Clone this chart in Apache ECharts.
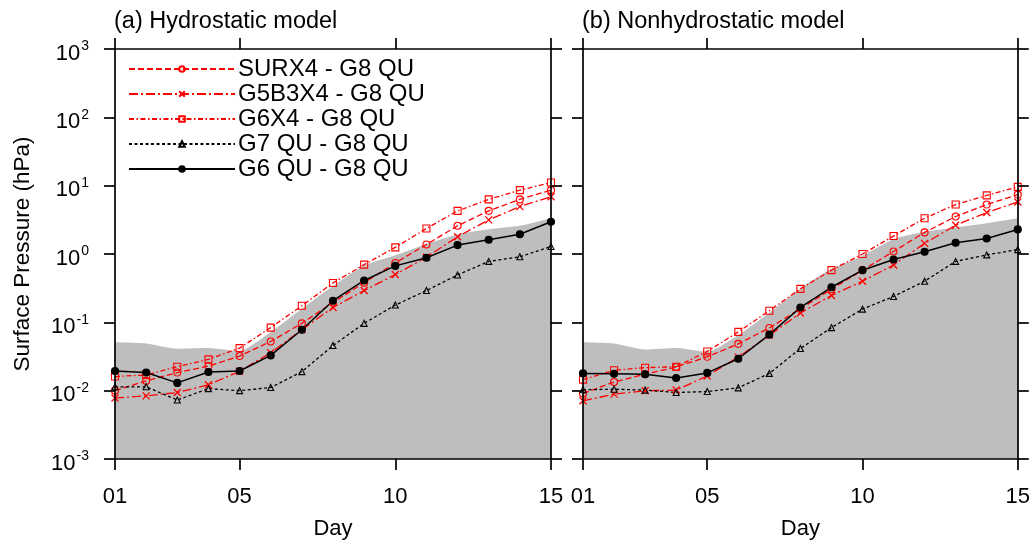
<!DOCTYPE html>
<html>
<head>
<meta charset="utf-8">
<script src="https://cdn.jsdelivr.net/npm/echarts@6/dist/echarts.min.js"></script>
<style>
html, body { margin: 0; padding: 0; background: #fff; }
#chart { width: 1033px; height: 545px; }
</style>
</head>
<body>
<div id="chart"></div>
<script>
const days = ['01', '02', '03', '04', '05', '06', '07', '08', '09', '10', '11', '12', '13', '14', '15']
const dayTickIdx = [0, 4, 9, 14]
const panelTitles = ['(a) Hydrostatic model', '(b) Nonhydrostatic model']
const seriesNames = ['SURX4 - G8 QU', 'G5B3X4 - G8 QU', 'G6X4 - G8 QU', 'G7 QU - G8 QU', 'G6 QU - G8 QU']

// (a) hydrostatic
const hydSpread = [0.051, 0.049, 0.041, 0.042, 0.038, 0.072, 0.158, 0.339, 0.676, 0.955, 1.40, 1.95, 2.31, 2.59, 3.34]
const hydSurx4 = [0.0100, 0.0139, 0.0184, 0.0229, 0.0321, 0.0524, 0.0967, 0.195, 0.381, 0.74, 1.38, 2.59, 4.28, 6.3, 8.6]
const hydG5b3x4 = [0.0078, 0.0084, 0.0094, 0.0122, 0.0192, 0.0358, 0.078, 0.165, 0.292, 0.50, 0.90, 1.79, 3.16, 4.94, 6.9]
const hydG6x4 = [0.0161, 0.0170, 0.0224, 0.0287, 0.0419, 0.0837, 0.175, 0.377, 0.70, 1.25, 2.36, 4.28, 6.3, 8.6, 11.1]
const hydG7qu = [0.0114, 0.0114, 0.0073, 0.0107, 0.0100, 0.0111, 0.0190, 0.0458, 0.0967, 0.179, 0.292, 0.493, 0.78, 0.91, 1.29]
const hydG6qu = [0.0194, 0.0184, 0.0130, 0.0188, 0.0194, 0.0328, 0.078, 0.207, 0.41, 0.67, 0.88, 1.35, 1.62, 1.95, 2.96]

// (b) nonhydrostatic
const nonSpread = [0.051, 0.049, 0.040, 0.042, 0.037, 0.065, 0.138, 0.316, 0.603, 0.946, 1.65, 2.11, 2.45, 2.82, 3.34]
const nonSurx4 = [0.0091, 0.0134, 0.0174, 0.0222, 0.0313, 0.0484, 0.0828, 0.158, 0.305, 0.58, 1.09, 2.07, 3.54, 5.29, 7.4]
const nonG5b3x4 = [0.0071, 0.0089, 0.00995, 0.0102, 0.0164, 0.031, 0.0647, 0.137, 0.247, 0.40, 0.69, 1.43, 2.64, 4.04, 5.78]
const nonG6x4 = [0.0145, 0.0199, 0.0217, 0.0224, 0.0375, 0.0724, 0.148, 0.309, 0.58, 1.0, 1.83, 3.34, 5.29, 7.2, 9.6]
const nonG7qu = [0.0103, 0.0105, 0.0102, 0.0094, 0.0097, 0.011, 0.0179, 0.0414, 0.0837, 0.156, 0.239, 0.40, 0.78, 0.97, 1.16]
const nonG6qu = [0.0179, 0.0177, 0.0174, 0.0153, 0.0182, 0.0293, 0.066, 0.165, 0.326, 0.58, 0.83, 1.08, 1.46, 1.69, 2.29]

const FONT = '"Liberation Sans", Arial, Helvetica, sans-serif'
const RED = '#ff0000'
const BLACK = '#000000'
const crossPath = 'path://M0,0L10,10M10,0L0,10'

// line look for each series (same order as seriesNames)
const looks = [
    {color: RED, type: [6, 3], symbol: 'circle', size: 7, hollow: true},
    {color: RED, type: [9, 3, 2, 3], symbol: crossPath, size: 7, hollow: false, cross: true},
    {color: RED, type: [5, 2.5, 1.5, 2.5], symbol: 'rect', size: 7, hollow: true},
    {color: BLACK, type: [3, 2.5], symbol: 'triangle', size: 6, hollow: true},
    {color: BLACK, type: 'solid', symbol: 'circle', size: 7, hollow: false},
]

const showTick = (i) => dayTickIdx.includes(i)

const makeSeries = (name, data, look, idx) => ({
    name: name,
    type: 'line',
    xAxisIndex: idx,
    yAxisIndex: idx,
    data: data,
    symbol: look.symbol,
    symbolSize: look.size,
    z: 3,
    lineStyle: {color: look.color, width: look.color === BLACK && look.type === 'solid' ? 1.5 : 1.3, type: look.type},
    itemStyle: {
        color: look.hollow ? 'rgba(0,0,0,0)' : look.color,
        borderColor: look.color,
        borderWidth: look.cross ? 1.3 : 1.1,
    },
    emphasis: {disabled: true},
})

const spreadSeries = (data, idx) => ({
    type: 'line',
    xAxisIndex: idx,
    yAxisIndex: idx,
    data: data,
    symbol: 'none',
    smooth: 0.2,
    z: 1,
    lineStyle: {width: 0},
    areaStyle: {color: '#bebebe', opacity: 1, origin: 'start'},
    emphasis: {disabled: true},
})

const xAxisFor = (idx, pos) => ({
    gridIndex: idx,
    type: 'category',
    data: days,
    boundaryGap: false,
    position: pos,
    z: 5,
    axisLine: {show: true, onZero: false, lineStyle: {color: BLACK, width: 1.7}},
    axisTick: {show: true, inside: false, length: 11, interval: showTick, lineStyle: {color: BLACK, width: 1.7}},
    axisLabel: {show: pos === 'bottom', interval: showTick, fontSize: 22, color: BLACK, fontFamily: FONT, margin: 27},
    splitLine: {show: false},
    name: pos === 'bottom' ? 'Day' : '',
    nameLocation: 'middle',
    nameGap: 59,
    nameTextStyle: {fontSize: 22, color: BLACK, fontFamily: FONT},
})

const expLabel = (v) => {
    const e = Math.round(Math.log10(v))
    return '{b|10}{e|' + e + '}'
}

const yAxisFor = (idx, pos, labels) => ({
    gridIndex: idx,
    type: 'log',
    logBase: 10,
    min: 0.001,
    max: 1000,
    position: pos,
    z: 5,
    axisLine: {show: true, lineStyle: {color: BLACK, width: 1.7}},
    axisTick: {show: true, inside: false, length: 11, lineStyle: {color: BLACK, width: 1.7}},
    minorTick: {show: false},
    splitLine: {show: false},
    axisLabel: {
        show: labels,
        margin: 26,
        formatter: expLabel,
        rich: {
            b: {fontSize: 22, color: BLACK, fontFamily: FONT, lineHeight: 31, verticalAlign: 'bottom'},
            e: {fontSize: 14, color: BLACK, fontFamily: FONT, verticalAlign: 'top', padding: [6, 0, 0, 1]},
        },
    },
    name: labels ? 'Surface Pressure (hPa)' : '',
    nameLocation: 'middle',
    nameGap: 81,
    nameTextStyle: {fontSize: 22.5, color: BLACK, fontFamily: FONT},
})

const panels = [
    [hydSpread, hydSurx4, hydG5b3x4, hydG6x4, hydG7qu, hydG6qu],
    [nonSpread, nonSurx4, nonG5b3x4, nonG6x4, nonG7qu, nonG6qu],
]

const series = []
panels.forEach((p, idx) => {
    series.push(spreadSeries(p[0], idx))
    seriesNames.forEach((n, k) => {
        series.push(makeSeries(n, p[k + 1], looks[k], idx))
    })
})

const option = {
    animation: false,
    backgroundColor: '#ffffff',
    textStyle: {fontFamily: FONT},
    title: [
        {text: panelTitles[0], left: 114, top: 10, padding: 0, textStyle: {fontSize: 23.5, fontWeight: 'normal', color: BLACK, fontFamily: FONT}},
        {text: panelTitles[1], left: 582, top: 10, padding: 0, textStyle: {fontSize: 23.5, fontWeight: 'normal', color: BLACK, fontFamily: FONT}},
    ],
    legend: {
        data: seriesNames,
        orient: 'vertical',
        left: 128,
        top: 57,
        padding: 0,
        itemWidth: 106,
        itemHeight: 7,
        itemGap: 1,
        selectedMode: false,
        textStyle: {fontSize: 24, color: BLACK, fontFamily: FONT, lineHeight: 22, padding: [0, 0, 0, -2]},
    },
    grid: [
        {left: 115, right: 482, top: 49, bottom: 83},
        {left: 583, right: 14, top: 49, bottom: 83},
    ],
    xAxis: [xAxisFor(0, 'bottom'), xAxisFor(1, 'bottom'), xAxisFor(0, 'top'), xAxisFor(1, 'top')],
    yAxis: [yAxisFor(0, 'left', true), yAxisFor(1, 'left', false), yAxisFor(0, 'right', false), yAxisFor(1, 'right', false)],
    series: series,
}

const myChart = echarts.init(document.getElementById('chart'))
myChart.setOption(option)
</script>
</body>
</html>
